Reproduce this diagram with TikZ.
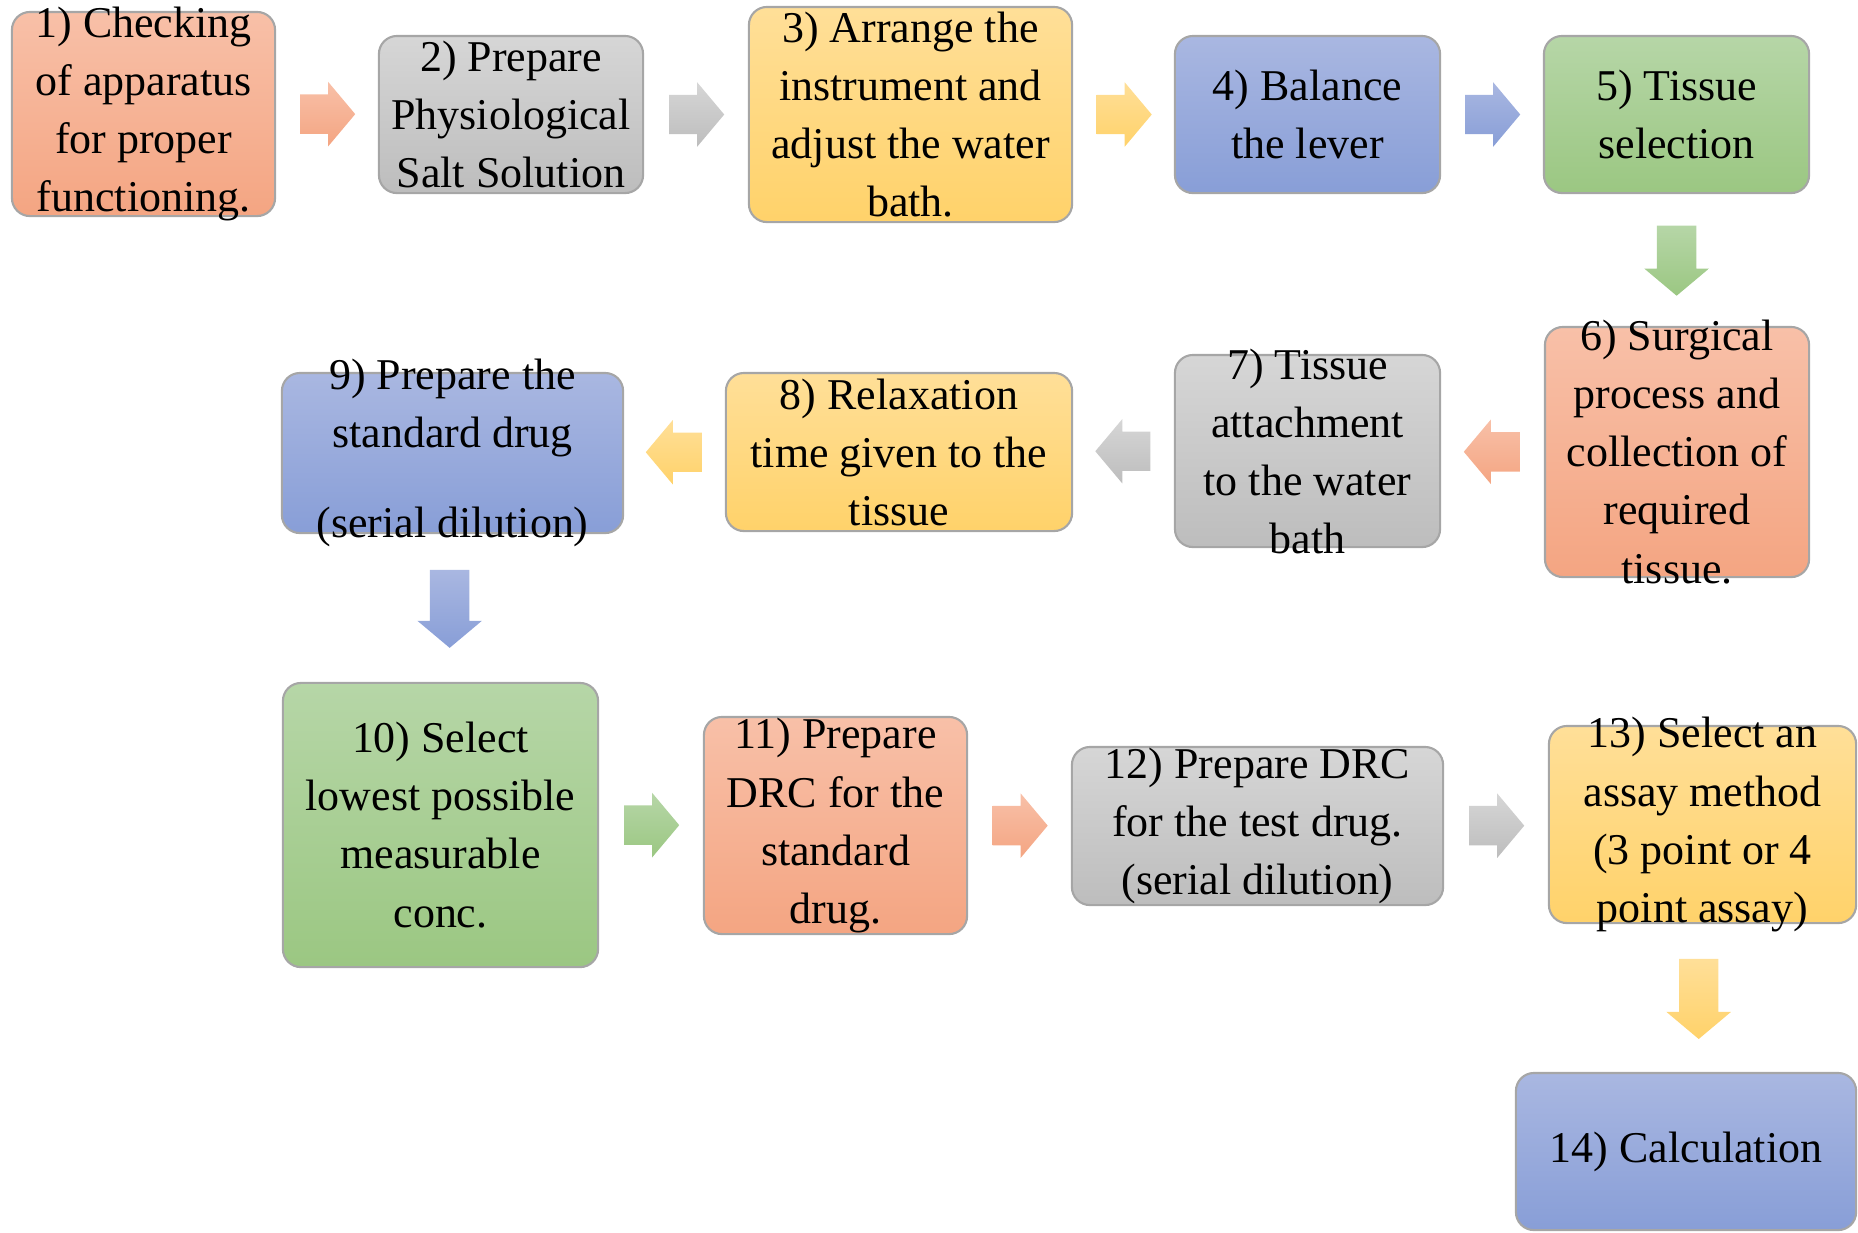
\documentclass[tikz,border=0pt]{standalone}
\usepackage{fontspec}
\setmainfont{Liberation Serif}
\usetikzlibrary{shapes.arrows,calc}
\definecolor{orgT}{RGB}{248,192,168}
\definecolor{orgB}{RGB}{244,165,130}
\definecolor{gryT}{RGB}{214,214,214}
\definecolor{gryB}{RGB}{189,189,189}
\definecolor{ylwT}{RGB}{255,223,152}
\definecolor{ylwB}{RGB}{255,210,106}
\definecolor{bluT}{RGB}{169,183,225}
\definecolor{bluB}{RGB}{136,158,215}
\definecolor{grnT}{RGB}{182,214,167}
\definecolor{grnB}{RGB}{155,199,130}
\newcommand{\btext}[3]{\parbox[c][#2cm][c]{#1cm}{\centering #3}}
\begin{document}
\begin{tikzpicture}[x=0.01cm,y=-0.01cm,
  box/.style={draw=black!35,line width=0.6pt,rounded corners=0.18cm,inner sep=0pt,font=\fontsize{12.5}{16.5}\selectfont},
  blk/.style={single arrow,draw=none,anchor=tail,minimum width=0.63cm,single arrow head extend=0.125cm,single arrow tip angle=100},
  dir0/.style={inner xsep=0pt,inner ysep=0.19cm},
  dir180/.style={dir0},
  dir270/.style={inner xsep=0.19cm,inner ysep=0pt},
  org/.style={top color=orgT,bottom color=orgB},
  gry/.style={top color=gryT,bottom color=gryB},
  ylw/.style={top color=ylwT,bottom color=ylwB},
  blu/.style={top color=bluT,bottom color=bluB},
  grn/.style={top color=grnT,bottom color=grnB}]
\useasboundingbox (0,0) rectangle (1858,1232);
\foreach \n/\x/\y/\w/\h/\c/\lbl in {
  1/143.5/114/2.63/2.04/org/{1) Checking\\of apparatus\\for proper\\functioning.},
  2/511/114.5/2.64/1.57/gry/{2) Prepare\\Physiological\\Salt Solution},
  3/910.5/114.5/3.23/2.15/ylw/{3) Arrange the\\instrument and\\adjust the water\\bath.},
  4/1307.5/114.5/2.65/1.57/blu/{4) Balance\\the lever},
  5/1676.5/114.5/2.65/1.57/grn/{5) Tissue\\selection},
  6/1677/452/2.64/2.50/org/{6) Surgical\\process and\\collection of\\required\\tissue.},
  7/1307.5/451/2.65/1.92/gry/{7) Tissue\\attachment\\to the water\\bath},
  8/899/452/3.46/1.58/ylw/{8) Relaxation\\time given to the\\tissue},
  9/452.5/453/3.41/1.60/blu/{9) Prepare the\\standard drug\\[9pt](serial dilution)},
  10/440.5/825/3.15/2.84/grn/{10) Select\\lowest possible\\measurable\\conc.},
  11/835.5/825.5/2.63/2.17/org/{11) Prepare\\DRC for the\\standard\\drug.},
  12/1257.5/826/3.71/1.58/gry/{12) Prepare DRC\\for the test drug.\\(serial dilution)},
  13/1702.5/824.5/3.07/1.97/ylw/{13) Select an\\assay method\\(3 point or 4\\point assay)},
  14/1686/1151.5/3.40/1.57/blu/{14) Calculation}}
  \node[box,\c](b\n) at (\x,\y) {\btext{\w}{\h}{\lbl}};
\foreach \s/\e/\a/\b/\c/\l in {b1/b2/0/180/org/0.55,b2/b3/0/180/gry/0.55,b3/b4/0/180/ylw/0.55,
  b4/b5/0/180/blu/0.55,b5/b6/270/90/grn/0.70,b6/b7/180/0/org/0.56,b7/b8/180/0/gry/0.55,
  b8/b9/180/0/ylw/0.56,b9/b10/270/90/blu/0.78,b10/b11/0/180/grn/0.55,b11/b12/0/180/org/0.55,
  b12/b13/0/180/gry/0.55,b13/b14/270/90/ylw/0.80}{
  \pgfmathsetmacro{\hl}{\l/2}
  \node[blk,dir\a,\c,shape border rotate=\a,minimum height=\l cm](a\s) at ($(\s.\a)!0.5!(\e.\b)!\hl cm!(\s.\a)$) {};}
\end{tikzpicture}
\end{document}
